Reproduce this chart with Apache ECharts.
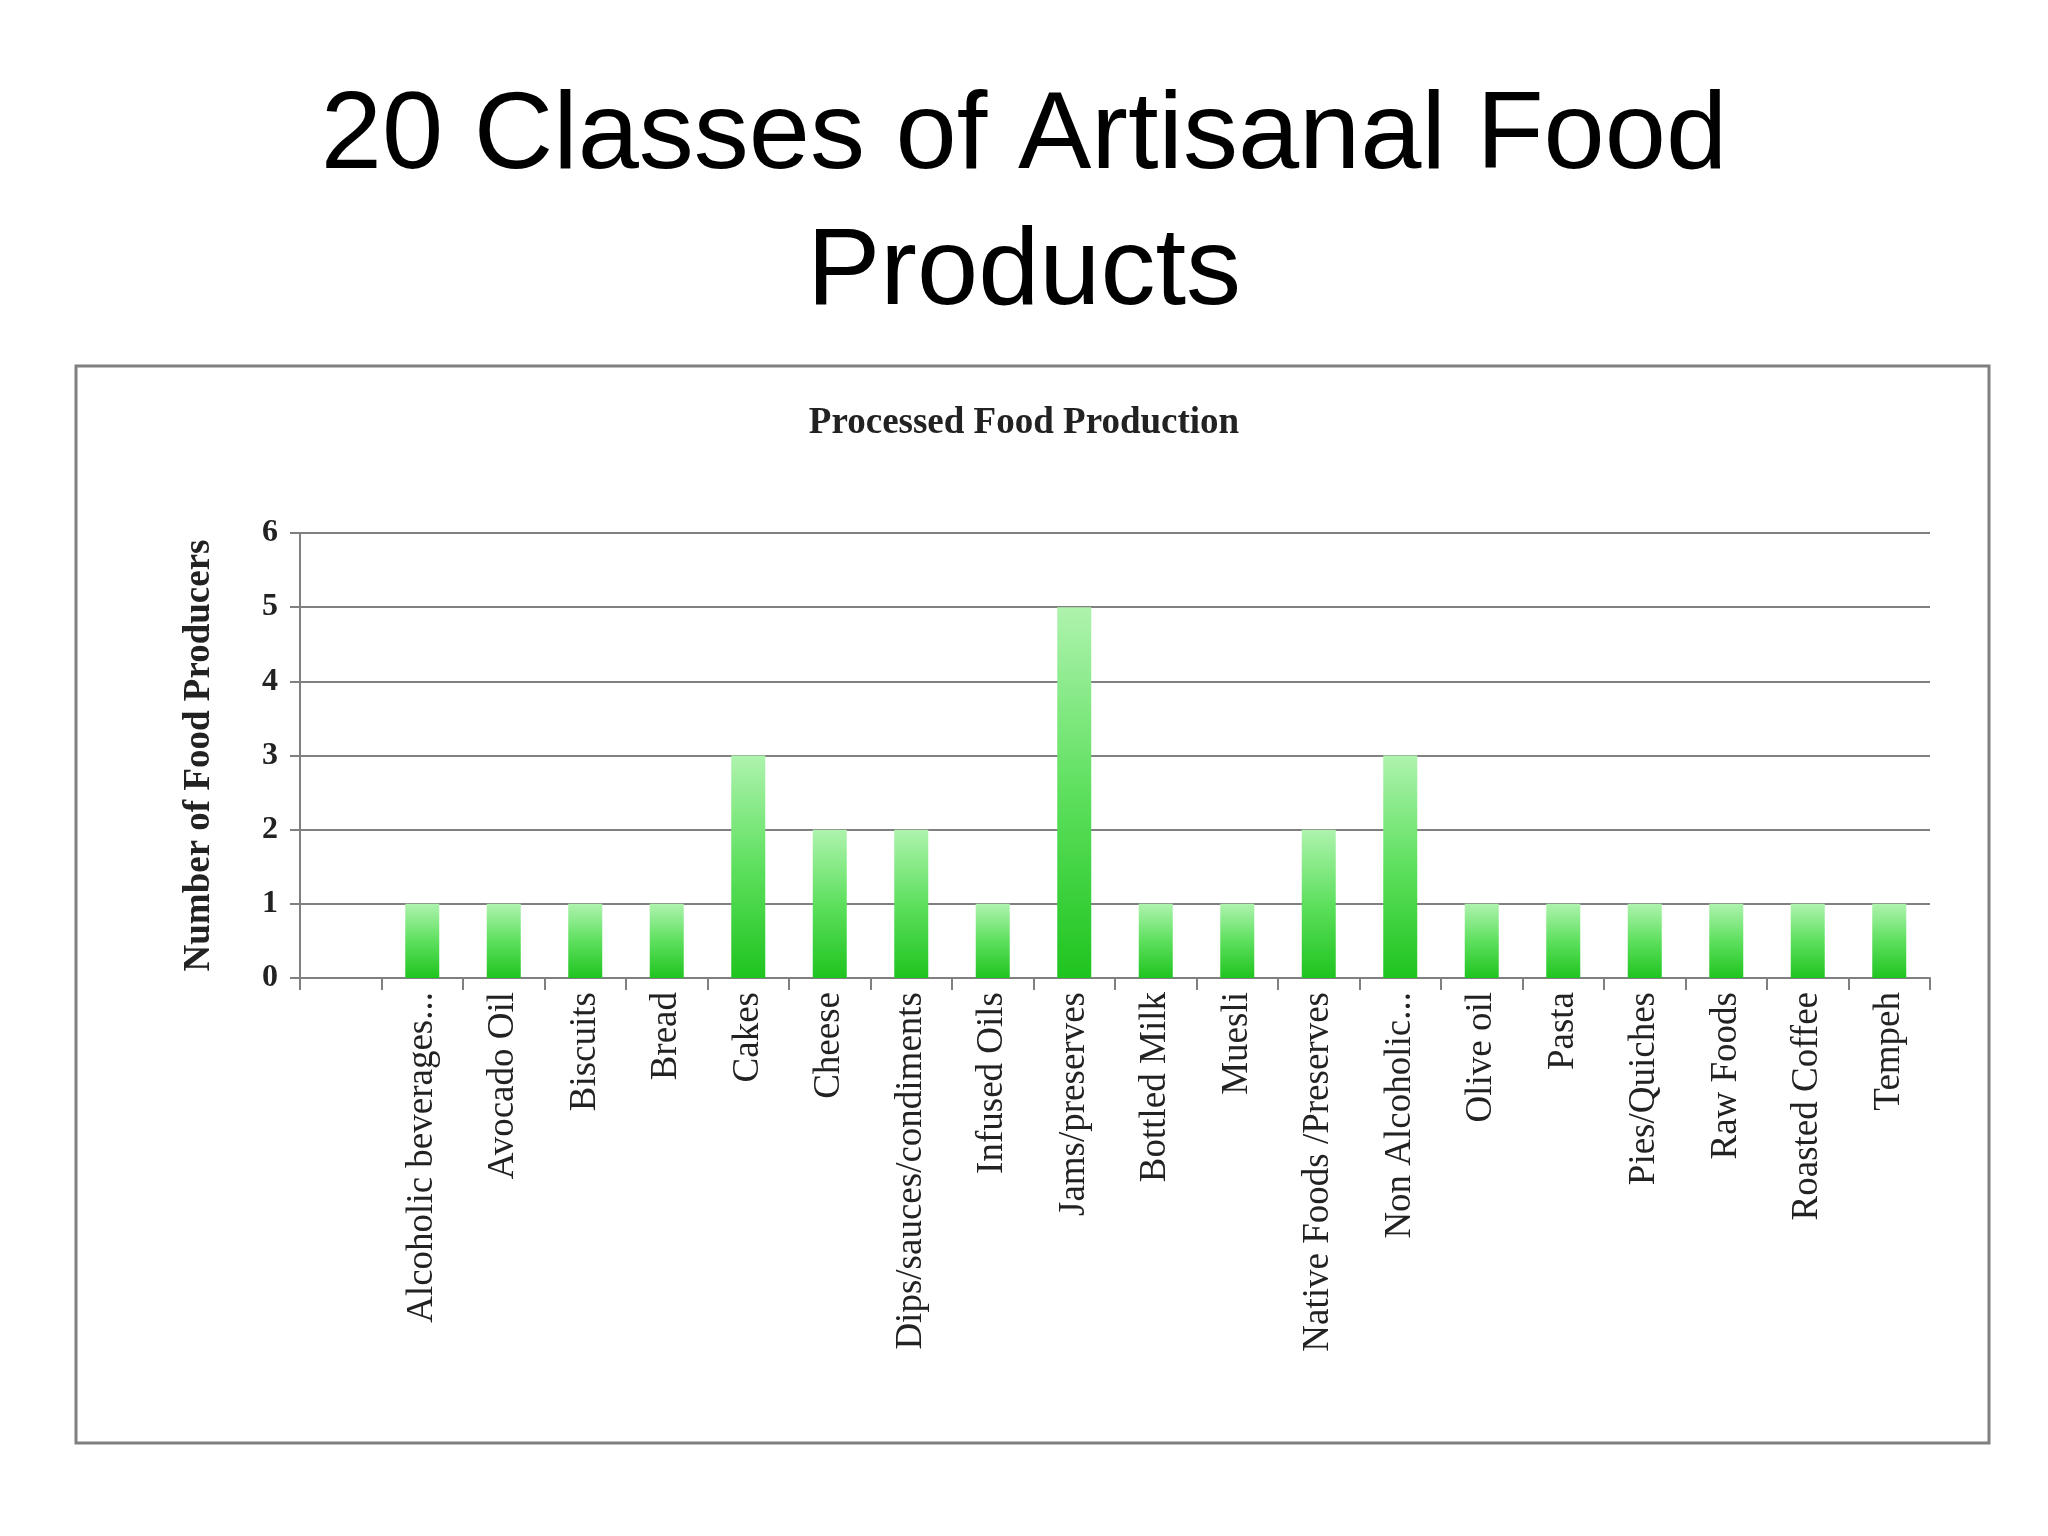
<!DOCTYPE html>
<html>
<head>
<meta charset="utf-8">
<script src="https://cdn.jsdelivr.net/npm/echarts@6/dist/echarts.min.js"></script>
<style>
  html, body { margin: 0; padding: 0; background: #fff; }
  #main { width: 2048px; height: 1536px; }
</style>
</head>
<body>
<div id="main"></div>
<script>
var categories = ['', 'Alcoholic beverages...', 'Avocado Oil', 'Biscuits', 'Bread', 'Cakes', 'Cheese',
  'Dips/sauces/condiments', 'Infused Oils', 'Jams/preserves', 'Bottled Milk', 'Muesli',
  'Native Foods /Preserves', 'Non Alcoholic...', 'Olive oil', 'Pasta', 'Pies/Quiches',
  'Raw Foods', 'Roasted Coffee', 'Tempeh'];
var producers = [null, 1, 1, 1, 1, 3, 2, 2, 1, 5, 1, 1, 2, 3, 1, 1, 1, 1, 1, 1];
var yTicks = [0, 1, 2, 3, 4, 5, 6];

var chart = echarts.init(document.getElementById('main'));
var serif = '"Liberation Serif", "DejaVu Serif", serif';

var option = {
  backgroundColor: '#fff',
  graphic: [
    {
      type: 'rect',
      shape: { x: 76, y: 366, width: 1913, height: 1077 },
      style: { fill: 'none', stroke: '#808080', lineWidth: 3 }
    },
    {
      type: 'text', x: 1024, y: 70,
      style: {
        text: '20 Classes of Artisanal Food\nProducts',
        font: '110px "Liberation Sans", Arial, sans-serif',
        fill: '#000', align: 'center', lineHeight: 136
      }
    }
  ],
  title: {
    text: 'Processed Food Production',
    left: 'center', top: 400,
    textStyle: { fontFamily: serif, fontWeight: 'bold', fontSize: 37, color: '#222' }
  },
  grid: { left: 300, right: 118, top: 533, bottom: 558 },
  xAxis: {
    type: 'category',
    data: categories,
    axisLine: { lineStyle: { color: '#808080', width: 2 } },
    axisTick: { show: true, alignWithLabel: false, length: 12, lineStyle: { color: '#808080', width: 2 } },
    axisLabel: { rotate: 90, interval: 0, fontFamily: serif, fontSize: 37, color: '#222', margin: 14 }
  },
  yAxis: {
    type: 'value',
    min: 0, max: 6, interval: 1,
    name: 'Number of Food Producers',
    nameLocation: 'middle', nameGap: 82,
    nameTextStyle: { fontFamily: serif, fontWeight: 'bold', fontSize: 37, color: '#222' },
    axisLine: { show: true, lineStyle: { color: '#808080', width: 2 } },
    axisTick: { show: true, length: 10, lineStyle: { color: '#808080', width: 2 } },
    splitLine: { lineStyle: { color: '#808080', width: 2 } },
    axisLabel: {
      fontFamily: serif, fontWeight: 'bold', fontSize: 32, color: '#222', margin: 22,
      formatter: function (v) { return yTicks.indexOf(v) >= 0 ? String(v) : ''; }
    }
  },
  series: [{
    type: 'bar',
    data: producers,
    barWidth: 34,
    itemStyle: {
      color: new echarts.graphic.LinearGradient(0, 0, 0, 1, [
        { offset: 0, color: '#aef3ae' },
        { offset: 0.5, color: '#5ee05e' },
        { offset: 1, color: '#1fc41f' }
      ]),
      shadowBlur: 6,
      shadowColor: 'rgba(60,200,60,0.6)'
    }
  }]
};
chart.setOption(option);
</script>
</body>
</html>
